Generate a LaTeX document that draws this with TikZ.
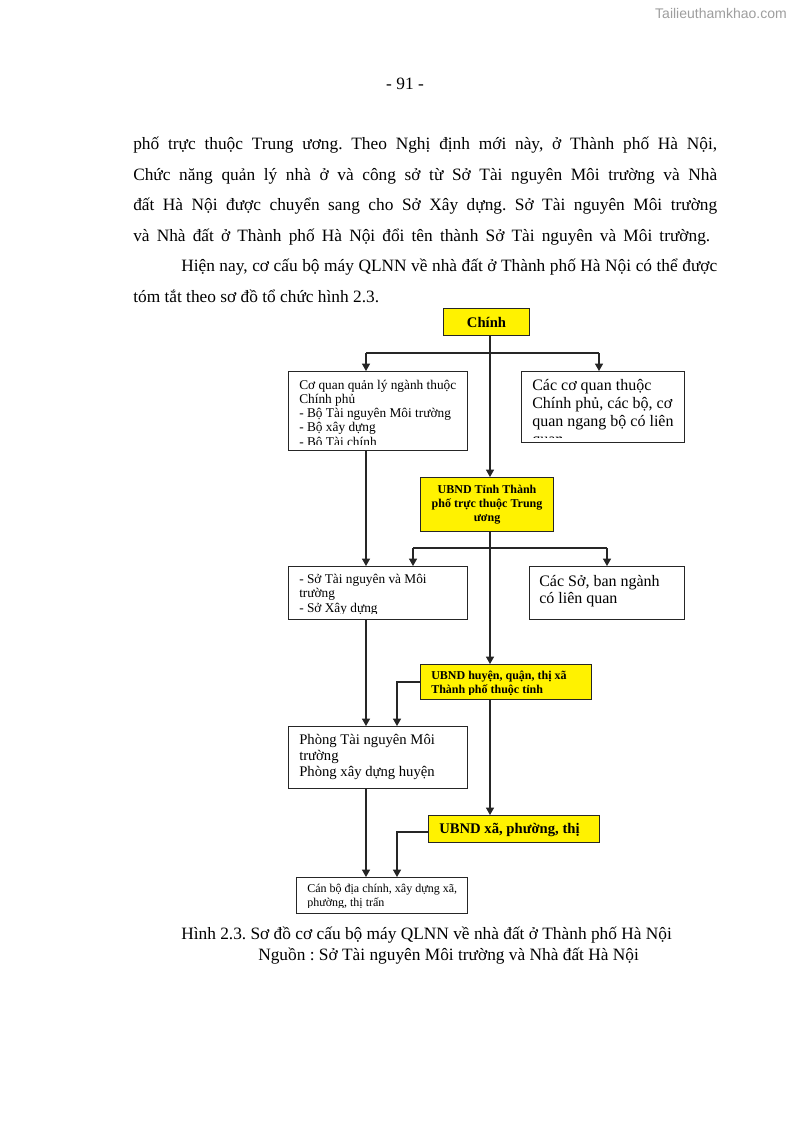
\documentclass[tikz,border=0pt]{standalone}
\usepackage{fontspec}
\setmainfont{Liberation Serif}
\newfontfamily\wmfont{Liberation Sans}
\usetikzlibrary{arrows.meta}
\frenchspacing
\begin{document}
\begin{tikzpicture}[x=0.75pt,y=-0.75pt,
  box/.style={draw=black!85, line width=0.8pt, anchor=north west, inner sep=0pt, fill=white},
  ybox/.style={box, fill=yellow},
  sz/.style 2 args={minimum width={#1*0.75pt}, minimum height={#2*0.75pt}},
  conn/.style={draw=black!85, line width=0.8pt},
  arr/.style={conn, -{Triangle[length=5.5pt,width=6pt]}},
  txt/.style={anchor=base west, inner sep=0pt},
  body/.style={anchor=base west, inner sep=0pt, font=\fontsize{13}{15}\selectfont},
]
\fill[white] (0,0) rectangle (794,1123);
\useasboundingbox (0,0) rectangle (794,1123);

% watermark and page number
\node[anchor=base east, inner sep=0pt, font=\wmfont\fontsize{10.5}{12}\selectfont, text=black!38] (wm) at (787,19) {Tailieuthamkhao.com};
\node[anchor=base, inner sep=0pt, font=\fontsize{13}{15}\selectfont] (pn) at (405,90) {- 91 -};

% body text
\node[body] (l1) at (133,149.5) {\makebox[438pt][s]{phố trực thuộc Trung ương. Theo Nghị định mới này, ở Thành phố Hà Nội,}};
\node[body] (l2) at (133,180.1) {\makebox[438pt][s]{Chức năng quản lý nhà ở và công sở từ Sở Tài nguyên Môi trường và Nhà}};
\node[body] (l3) at (133,210.7) {\makebox[438pt][s]{đất Hà Nội được chuyển sang cho Sở Xây dựng. Sở Tài nguyên Môi trường}};
\node[body] (l4) at (133,241.3) {\makebox[432.75pt][s]{và Nhà đất ở Thành phố Hà Nội đổi tên thành Sở Tài nguyên và Môi trường.}};
\node[body] (l5) at (181,271.9) {\makebox[402pt][s]{Hiện nay, cơ cấu bộ máy QLNN về nhà đất ở Thành phố Hà Nội có thể được}};
\node[body] (l6) at (133,302.5) {tóm tắt theo sơ đồ tổ chức hình 2.3.};

% boxes
\node[ybox, sz={86}{27}, font=\bfseries\fontsize{11}{13}\selectfont] (chinh) at (443,308) {Chính};
\node[box, sz={179}{79}] (b1) at (288,371) {};
\node[box, sz={163}{71}] (b2) at (521,371) {};
\node[ybox, sz={133}{54}, align=center, font=\bfseries\fontsize{9}{10.5}\selectfont] (ubt) at (420,477) {UBND Tỉnh Thành\\phố trực thuộc Trung\\ương};
\node[box, sz={179}{53}] (b3) at (288,566) {};
\node[box, sz={155}{53}] (b4) at (529,566) {};
\node[ybox, sz={171}{35}] (ubh) at (420,664) {};
\node[box, sz={179}{62}] (ph) at (288,726) {};
\node[ybox, sz={171}{27}] (ubx) at (428,815) {};
\node[box, sz={171}{36}] (cb) at (296,877) {};

% box texts
\begin{scope}
\clip (288,371) rectangle (467,444);
\node[txt, font=\fontsize{10}{10.7}\selectfont] (t1) at (299,389) {\begin{tabular}[t]{@{}l@{}}Cơ quan quản lý ngành thuộc\\Chính phủ\\- Bộ Tài nguyên Môi trường\\- Bộ xây dựng\\- Bộ Tài chính\end{tabular}};
\end{scope}
\begin{scope}
\clip (521,371) rectangle (684,437);
\node[txt, font=\fontsize{12}{13.5}\selectfont] (t2) at (532,390.7) {\begin{tabular}[t]{@{}l@{}}Các cơ quan thuộc\\Chính phủ, các bộ, cơ\\quan ngang bộ có liên\\quan\end{tabular}};
\end{scope}
\begin{scope}
\clip (288,566) rectangle (467,613);
\node[txt, font=\fontsize{10}{10.9}\selectfont] (t3) at (299,583) {\begin{tabular}[t]{@{}l@{}}- Sở Tài nguyên và Môi\\trường\\- Sở Xây dựng\end{tabular}};
\end{scope}
\node[txt, font=\fontsize{12}{12.8}\selectfont] (t4) at (539,586) {\begin{tabular}[t]{@{}l@{}}Các Sở, ban ngành\\có liên quan\end{tabular}};
\begin{scope}
\clip (420,664) rectangle (591,694);
\node[txt, font=\bfseries\fontsize{9}{10.5}\selectfont] (t5) at (431,679.3) {\begin{tabular}[t]{@{}l@{}}UBND huyện, quận, thị xã\\Thành phố thuộc tỉnh\end{tabular}};
\end{scope}
\node[txt, font=\fontsize{11}{12.2}\selectfont] (t6) at (299,744) {\begin{tabular}[t]{@{}l@{}}Phòng Tài nguyên Môi\\trường\\Phòng xây dựng huyện\end{tabular}};
\node[txt, font=\bfseries\fontsize{11}{13}\selectfont] (t7) at (439,833) {UBND xã, phường, thị};
\begin{scope}
\clip (296,877) rectangle (467,907);
\node[txt, font=\fontsize{9}{10}\selectfont] (t8) at (307,892.7) {\begin{tabular}[t]{@{}l@{}}Cán bộ địa chính, xây dựng xã,\\phường, thị trấn\end{tabular}};
\end{scope}

% connectors
\coordinate (spine) at (490,0);
\coordinate (h1l) at (366,353);
\coordinate (h1r) at (599,353);
\coordinate (h2l) at (413,548);
\coordinate (h2r) at (607,548);
\coordinate (k1) at (397,682);
\coordinate (k2) at (397,832);

\draw[arr] (chinh.south -| spine) -- (ubt.north -| spine);
\draw[conn] (h1l) -- (h1r);
\draw[arr] (h1l) -- (h1l |- b1.north);
\draw[arr] (h1r) -- (h1r |- b2.north);
\draw[arr] (b1.south -| h1l) -- (b3.north -| h1l);
\draw[arr] (ubt.south -| spine) -- (ubh.north -| spine);
\draw[conn] (h2l) -- (h2r);
\draw[arr] (h2l) -- (h2l |- b3.north);
\draw[arr] (h2r) -- (h2r |- b4.north);
\draw[arr] (b3.south -| h1l) -- (ph.north -| h1l);
\draw[arr] (ubh.west |- k1) -- (k1) -- (k1 |- ph.north);
\draw[arr] (ubh.south -| spine) -- (ubx.north -| spine);
\draw[arr] (ph.south -| h1l) -- (cb.north -| h1l);
\draw[arr] (ubx.west |- k2) -- (k2) -- (k2 |- cb.north);

% caption
\node[body] (c1) at (181,939) {Hình 2.3. Sơ đồ cơ cấu bộ máy QLNN về nhà đất ở Thành phố Hà Nội};
\node[body] (c2) at (258,960) {Nguồn : Sở Tài nguyên Môi trường và Nhà đất Hà Nội};
\end{tikzpicture}
\end{document}
